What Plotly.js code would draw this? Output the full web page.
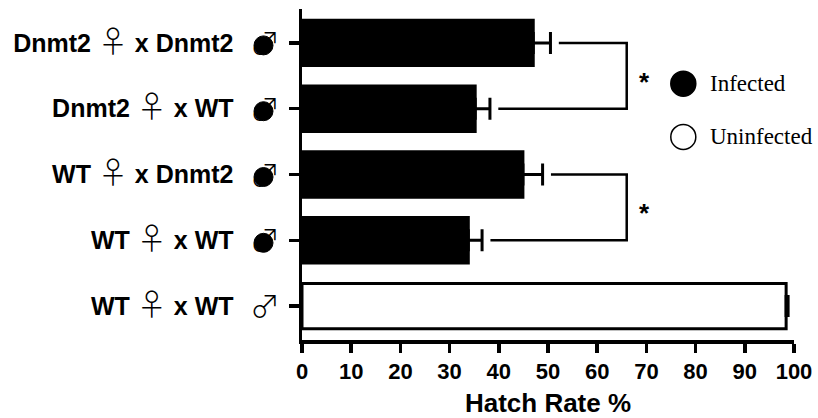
<!DOCTYPE html>
<html><head><meta charset="utf-8">
<script src="https://cdn.plot.ly/plotly-3.0.1.min.js"></script>
<style>html,body{margin:0;padding:0;background:#fff}</style>
</head><body><div id="chart" style="width:818px;height:418px"></div>
<script>
// ---- data ----
const femaleLine = ['Dnmt2', 'Dnmt2', 'WT', 'WT', 'WT'];
const maleLine   = ['Dnmt2', 'WT', 'Dnmt2', 'WT', 'WT'];
const infected   = [true, true, true, true, false];
const hatchRate  = [47.0, 35.2, 44.9, 33.8, 98.4];
const hatchErr   = [3.5, 3.0, 4.0, 2.8, 0.4];
const sigPairs   = [[0, 1], [2, 3]];
const sigLabels  = ['*', '*'];
const xTickVals  = [0, 10, 20, 30, 40, 50, 60, 70, 80, 90, 100];
const legendLabels = ['Infected', 'Uninfected'];
const xTitle = 'Hatch Rate %';

// ---- build ----
const rows = femaleLine.map((_, i) => i);
const NB = '\u00a0';
const SYMFONT = "'Noto Sans CJK JP'";
const sym = s => '<span style="font-family:' + SYMFONT + ';font-weight:300;font-size:30px">' + s + '</span>';
const tickText = rows.map(i =>
  '<b>' + femaleLine[i] + '</b>' + NB + sym('\u2640') + NB + '<b>x' + NB + maleLine[i] + '</b>');

const bars = {
  type: 'bar', orientation: 'h',
  y: rows, x: hatchRate, width: 0.69,
  marker: { color: infected.map(f => f ? '#000' : '#fff'), line: { color: '#000', width: 3 } },
  error_x: { type: 'data', symmetric: false, array: hatchErr, arrayminus: hatchErr.map(() => 0),
             color: '#000', thickness: 3, width: 11 },
  hoverinfo: 'none', showlegend: false
};

const gap = 1.7, bracketX = 66;
const shapes = [];
const annotations = [];
sigPairs.forEach((p, k) => {
  const a = p[0], b = p[1];
  const xa = hatchRate[a] + hatchErr[a] + gap;
  const xb = hatchRate[b] + hatchErr[b] + gap;
  shapes.push({ type: 'path', xref: 'x', yref: 'y',
    path: 'M' + xa + ',' + a + ' H' + bracketX + ' V' + b + ' H' + xb,
    line: { color: '#000', width: 2.5 } });
  annotations.push({ xref: 'x', yref: 'y', x: bracketX + 3.7, y: (a + b) / 2, text: sigLabels[k],
    showarrow: false, xanchor: 'center', yanchor: 'middle', yshift: -6,
    font: { family: 'Liberation Sans', size: 26, color: '#000', weight: 'bold' } });
});

// male symbols (filled circle for infected crosses)
rows.forEach(i => {
  annotations.push({ xref: 'paper', yref: 'y', x: 0, y: i, xshift: -37, yshift: 2, text: '\u2642',
    showarrow: false, xanchor: 'center', yanchor: 'middle',
    font: { family: 'Noto Sans CJK JP', size: 30, color: '#000', weight: 300 } });
  if (!infected[i]) return;
  shapes.push({ type: 'circle', xref: 'paper', yref: 'y', xsizemode: 'pixel', ysizemode: 'pixel',
    xanchor: 0, yanchor: i, x0: -48, x1: -29, y0: -12, y1: 7,
    fillcolor: '#000', line: { color: '#000', width: 1 } });
});

// legend
const legendX = 77.5, legendY = [0.62, 1.43];
legendLabels.forEach((lab, k) => {
  shapes.push({ type: 'circle', xref: 'x', yref: 'y', xsizemode: 'pixel', ysizemode: 'pixel',
    xanchor: legendX, yanchor: legendY[k], x0: -12.5, x1: 12.5, y0: -12.5, y1: 12.5,
    fillcolor: k === 0 ? '#000' : '#fff', line: { color: '#000', width: 1.5 } });
  annotations.push({ xref: 'x', yref: 'y', x: legendX, y: legendY[k], xshift: 25, text: lab,
    showarrow: false, xanchor: 'left', yanchor: 'middle',
    font: { family: 'Liberation Serif', size: 23, color: '#000' } });
});

const layout = {
  width: 818, height: 418,
  margin: { l: 302, r: 24, t: 9, b: 78 },
  paper_bgcolor: '#fff', plot_bgcolor: '#fff',
  font: { family: 'Liberation Sans', color: '#000' },
  xaxis: {
    range: [0, 100], tickvals: xTickVals, ticks: 'outside', ticklen: 9, tickwidth: 3.5, tickcolor: '#000',
    showline: true, linewidth: 3.5, linecolor: '#000', showgrid: false, zeroline: false,
    tickfont: { family: 'Liberation Sans', size: 22, color: '#000', weight: 'bold' },
    title: { text: xTitle, standoff: 12, font: { family: 'Liberation Sans', size: 26, color: '#000', weight: 'bold' } }
  },
  yaxis: {
    range: [4.515, -0.515], tickvals: rows, ticktext: tickText, ticks: 'outside', ticklen: 10, tickwidth: 3.5, tickcolor: '#000',
    ticklabelstandoff: 50,
    showline: true, linewidth: 3.5, linecolor: '#000', showgrid: false, zeroline: false,
    tickfont: { family: 'Liberation Sans', size: 25, color: '#000' }
  },
  shapes: shapes, annotations: annotations, showlegend: false
};

Plotly.newPlot('chart', [bars], layout, { staticPlot: true, displayModeBar: false });
</script></body></html>
